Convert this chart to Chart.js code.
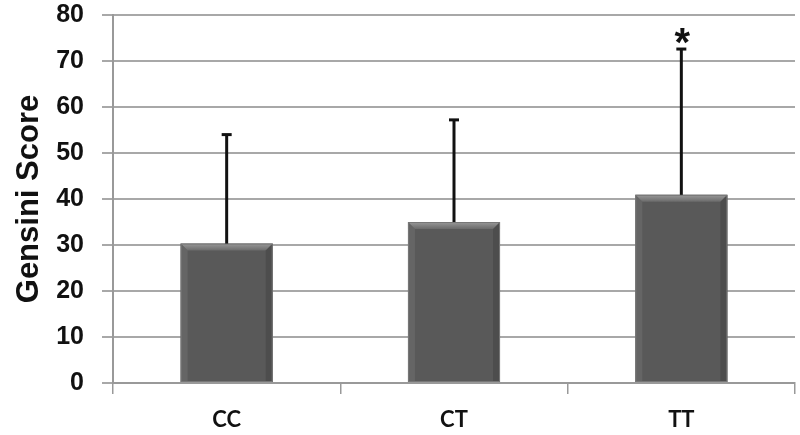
<!DOCTYPE html>
<html>
<head>
<meta charset="utf-8">
<script src="https://cdn.jsdelivr.net/npm/chart.js@4"></script>
<style>
  html, body { margin: 0; padding: 0; background: #fff; }
  #wrap { width: 800px; height: 435px; }
</style>
</head>
<body>
<div id="wrap"><canvas id="c" width="800" height="435"></canvas></div>
<script>
const categories = ["CC", "CT", "TT"];
const meanValues = [30.3, 35.0, 40.9];
const upperErrorValues = [54.0, 57.2, 72.6];
const significance = ["", "", "*"];
const yTicks = [0, 10, 20, 30, 40, 50, 60, 70, 80];

const errorBarPlugin = {
  id: 'errorBars',
  afterDatasetsDraw(chart) {
    const ctx = chart.ctx;
    const meta = chart.getDatasetMeta(0);
    const y = chart.scales.y;
    ctx.save();
    meta.data.forEach((bar, i) => {
      const x = bar.x;
      const yTop = y.getPixelForValue(upperErrorValues[i]);
      const yBase = y.getPixelForValue(meanValues[i]);
      ctx.strokeStyle = '#111';
      ctx.lineWidth = 3;
      ctx.beginPath();
      ctx.moveTo(x, yBase);
      ctx.lineTo(x, yTop);
      ctx.stroke();
      ctx.beginPath();
      ctx.moveTo(x - 5, yTop);
      ctx.lineTo(x + 5, yTop);
      ctx.stroke();
      if (significance[i]) {
        ctx.fillStyle = '#111';
        const fs = 40;
        ctx.font = 'bold ' + fs + 'px "Liberation Sans", Arial, sans-serif';
        ctx.textAlign = 'center';
        ctx.textBaseline = 'alphabetic';
        ctx.fillText(significance[i], x + 1, yTop - 16 + 0.58 * fs);
      }
    });
    ctx.restore();
  }
};

const bevelPlugin = {
  id: 'bevel',
  afterDatasetDraw(chart) {
    const ctx = chart.ctx;
    const meta = chart.getDatasetMeta(0);
    ctx.save();
    meta.data.forEach(bar => {
      const w = bar.width;
      const l = bar.x - w / 2, r = bar.x + w / 2, t = bar.y, b = bar.base;
      const e = 7;
      const g = ctx.createLinearGradient(0, t, 0, t + e);
      g.addColorStop(0, '#999');
      g.addColorStop(1, '#6a6a6a');
      ctx.fillStyle = g;
      ctx.beginPath();
      ctx.moveTo(l, t); ctx.lineTo(r, t); ctx.lineTo(r - e, t + e); ctx.lineTo(l + e, t + e); ctx.closePath();
      ctx.fill();
      ctx.fillStyle = 'rgba(110,110,110,0.6)';
      ctx.beginPath();
      ctx.moveTo(l, t); ctx.lineTo(l + e, t + e); ctx.lineTo(l + e, b); ctx.lineTo(l, b); ctx.closePath();
      ctx.fill();
      ctx.fillStyle = 'rgba(70,70,70,0.6)';
      ctx.beginPath();
      ctx.moveTo(r, t); ctx.lineTo(r - e, t + e); ctx.lineTo(r - e, b); ctx.lineTo(r, b); ctx.closePath();
      ctx.fill();
      ctx.strokeStyle = '#777';
      ctx.lineWidth = 1;
      ctx.strokeRect(l + 0.5, t + 0.5, w - 1, b - t - 1);
    });
    ctx.restore();
  }
};

new Chart(document.getElementById('c'), {
  type: 'bar',
  data: {
    labels: categories,
    datasets: [{
      data: meanValues,
      backgroundColor: '#595959',
      borderWidth: 0,
      categoryPercentage: 0.405,
      barPercentage: 1.0
    }]
  },
  options: {
    responsive: false,
    animation: false,
    events: [],
    layout: { padding: { left: 8, right: 5, top: 15, bottom: 2 } },
    plugins: { legend: { display: false }, tooltip: { enabled: false } },
    scales: {
      x: {
        afterFit(scale) { scale.height = 50; scale.paddingLeft = 0; scale.paddingRight = 0; },
        grid: { display: true, drawOnChartArea: false, offset: true, color: '#999', lineWidth: 1.5, tickLength: 11 },
        border: { display: true, color: '#999', width: 2 },
        ticks: { color: '#111', font: { family: 'Lato, "Open Sans", sans-serif', size: 22, weight: 'bold' }, padding: 13 }
      },
      y: {
        min: 0, max: 80,
        afterBuildTicks(scale) { scale.ticks = yTicks.map(v => ({ value: v })); },
        afterFit(scale) { scale.width = 105; scale.paddingTop = 0; scale.paddingBottom = 0; },
        grid: { color: '#a8a8a8', lineWidth: 2, tickLength: 11 },
        border: { display: true, color: '#999', width: 2 },
        ticks: { color: '#111', font: { family: '"Liberation Sans", Arial, sans-serif', size: 25, weight: 'bold' }, padding: 18 },
        title: { display: true, text: 'Gensini Score', color: '#111', font: { family: '"Liberation Sans", Arial, sans-serif', size: 31, weight: 'bold' }, padding: { top: 3, bottom: 0 } }
      }
    }
  },
  plugins: [bevelPlugin, errorBarPlugin]
});
</script>
</body>
</html>
